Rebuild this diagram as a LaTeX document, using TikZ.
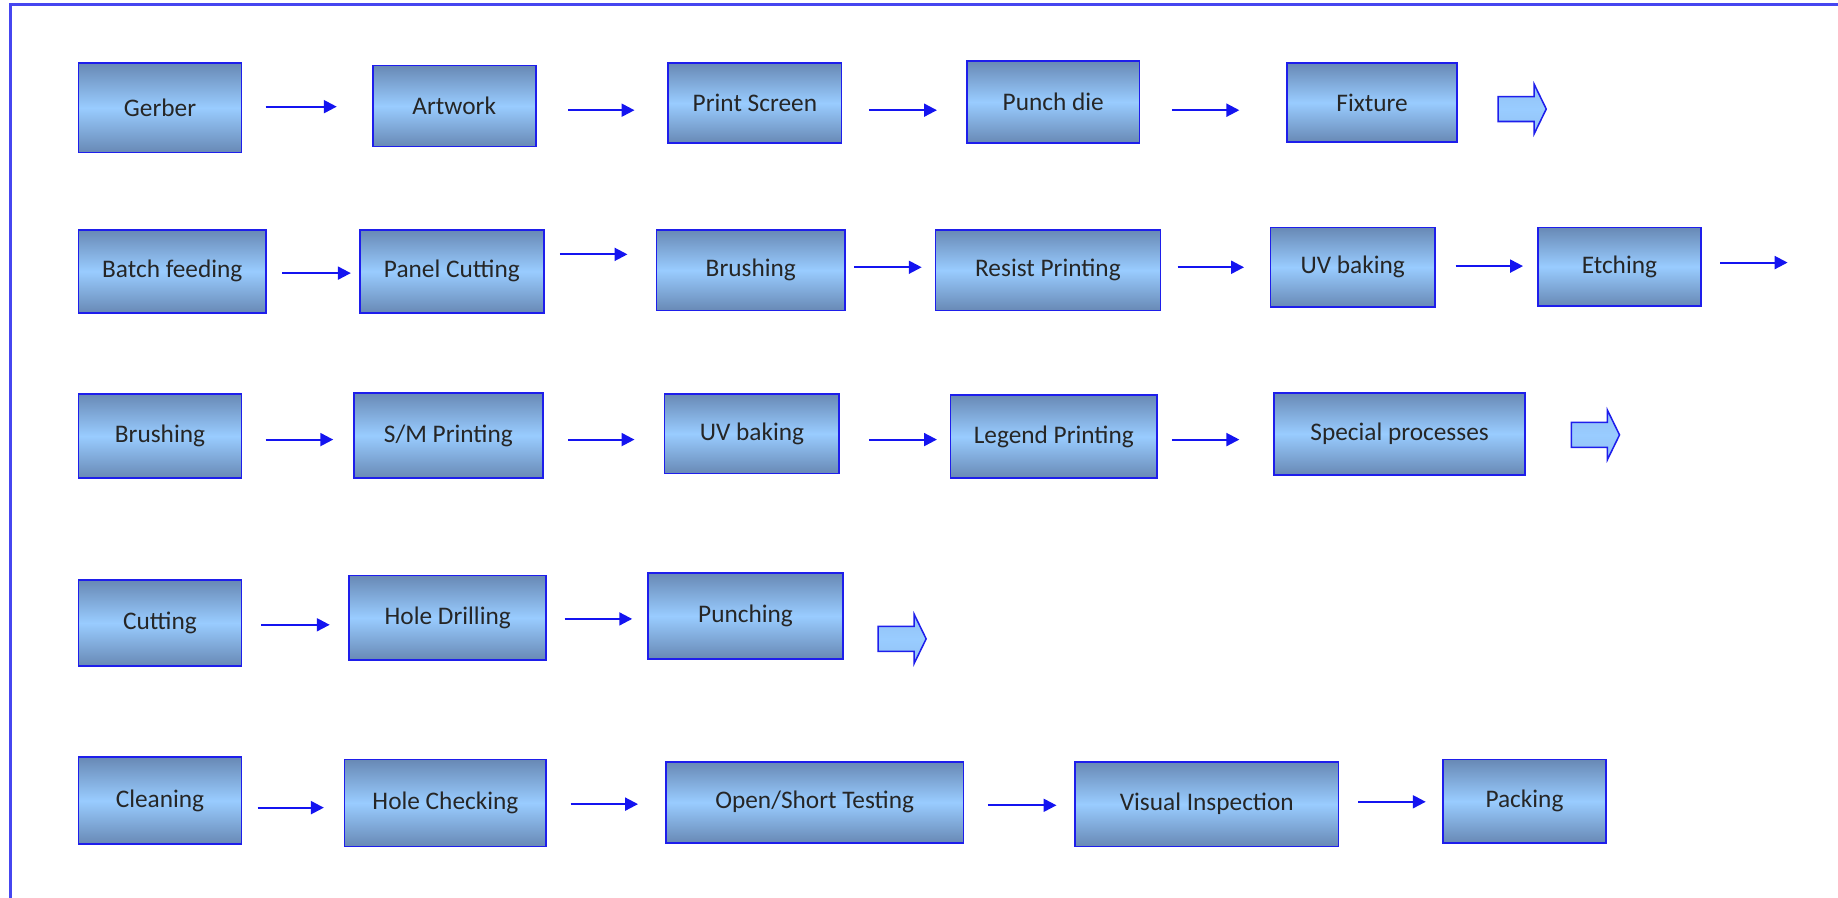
\documentclass[tikz,border=0pt]{standalone}
\usepackage{fontspec}
\setmainfont{Carlito}
\usepackage{tikz}
\usetikzlibrary{arrows.meta,shapes.arrows}
\definecolor{boxdark}{RGB}{104,137,181}
\definecolor{boxlight}{RGB}{153,204,255}
\definecolor{boxline}{RGB}{30,30,235}
\definecolor{flowblue}{RGB}{20,20,240}
\definecolor{framblue}{RGB}{70,70,240}
\newcommand\stagefont{\fontsize{21.6}{26}\selectfont}

\begin{document}
\begin{tikzpicture}[x=1pt,y=-1pt,
  stage/.style={draw=boxline, line width=1.4pt, top color=boxdark, bottom color=boxdark,
    middle color=boxlight, text=black!85, font=\stagefont, inner sep=0pt},
  flow/.style={draw=flowblue, line width=1.8pt, -{Triangle[length=11pt,width=11pt]}},
  gap/.style 2 args={shorten <=#1pt, shorten >=#2pt},
  bigarrow/.style={single arrow, draw=boxline, line width=1.3pt, top color=boxlight!85!boxdark,
    bottom color=boxlight!85!boxdark, middle color=boxlight, minimum height=41pt,
    inner xsep=0pt, inner ysep=10pt, single arrow head extend=10.5pt, single arrow tip angle=128}]
  \useasboundingbox (0,0) rectangle (1568,766);
  \draw[framblue, line width=2.2pt] (9,766) -- (9,4) -- (1568,4);

  % row 1
  \node[stage, minimum width=139pt, minimum height=76pt] (gerber) at (136.5,92) {Gerber};
  \node[stage, minimum width=139pt, minimum height=69pt] (artwork) at (387.5,90.5) {Artwork};
  \node[stage, minimum width=148pt, minimum height=68pt] (prscr) at (644,88) {Print Screen};
  \node[stage, minimum width=147pt, minimum height=70pt] (punch) at (898.5,87) {Punch die};
  \node[stage, minimum width=145pt, minimum height=67pt] (fixture) at (1170.5,87.5) {Fixture};
  \node[bigarrow] (next1) at (1296,93) {};
  \draw[flow, gap={20}{30}] ([yshift=1pt]gerber.east) -- ([yshift=1pt]gerber.east -| artwork.west);
  \draw[flow, gap={27}{28}] ([yshift=-3.5pt]artwork.east) -- ([yshift=-3.5pt]artwork.east -| prscr.west);
  \draw[flow, gap={23}{25}] ([yshift=-6pt]prscr.east) -- ([yshift=-6pt]prscr.east -| punch.west);
  \draw[flow, gap={27}{40}] ([yshift=-7pt]punch.east) -- ([yshift=-7pt]punch.east -| fixture.west);

  % row 2
  \node[stage, minimum width=160pt, minimum height=71pt] (batch) at (147,231.5) {Batch feeding};
  \node[stage, minimum width=157pt, minimum height=71pt] (pcut) at (385.5,231.5) {Panel Cutting};
  \node[stage, minimum width=161pt, minimum height=69pt] (brush1) at (640.5,230.5) {Brushing};
  \node[stage, minimum width=192pt, minimum height=69pt] (resist) at (894,230.5) {Resist Printing};
  \node[stage, minimum width=140pt, minimum height=68pt] (uvbake1) at (1154,228) {UV baking};
  \node[stage, minimum width=139pt, minimum height=67pt] (etch) at (1381.5,227.5) {Etching};
  \coordinate (etchout) at (1525,224);
  \draw[flow, gap={13}{7}] ([yshift=-1.5pt]batch.east) -- ([yshift=-1.5pt]batch.east -| pcut.west);
  \draw[flow, gap={13}{24}] ([yshift=14.5pt]pcut.east) -- ([yshift=14.5pt]pcut.east -| brush1.west);
  \draw[flow, gap={7}{11}] ([yshift=2.5pt]brush1.east) -- ([yshift=2.5pt]brush1.east -| resist.west);
  \draw[flow, gap={14}{22}] ([yshift=2.5pt]resist.east) -- ([yshift=2.5pt]resist.east -| uvbake1.west);
  \draw[flow, gap={17}{12}] ([yshift=1pt]uvbake1.east) -- ([yshift=1pt]uvbake1.east -| etch.west);
  \draw[flow, gap={16}{0}] ([yshift=3.5pt]etch.east) -- (etchout);

  % row 3
  \node[stage, minimum width=139pt, minimum height=72pt] (brush2) at (136.5,372) {Brushing};
  \node[stage, minimum width=161pt, minimum height=73pt] (smprint) at (382.5,371.5) {S/M Printing};
  \node[stage, minimum width=149pt, minimum height=68pt] (uvbake2) at (641.5,370) {UV baking};
  \node[stage, minimum width=176pt, minimum height=71pt] (legend) at (899,372.5) {Legend Printing};
  \node[stage, minimum width=214pt, minimum height=70pt] (special) at (1194,370) {Special processes};
  \node[bigarrow] (next2) at (1358.5,371) {};
  \draw[flow, gap={20}{17}] ([yshift=-3pt]brush2.east) -- ([yshift=-3pt]brush2.east -| smprint.west);
  \draw[flow, gap={21}{25}] ([yshift=-3.5pt]smprint.east) -- ([yshift=-3.5pt]smprint.east -| uvbake2.west);
  \draw[flow, gap={25}{11}] ([yshift=-5pt]uvbake2.east) -- ([yshift=-5pt]uvbake2.east -| legend.west);
  \draw[flow, gap={12}{29}] ([yshift=-2.5pt]legend.east) -- ([yshift=-2.5pt]legend.east -| special.west);

  % row 4
  \node[stage, minimum width=139pt, minimum height=73pt] (cutting) at (136.5,531.5) {Cutting};
  \node[stage, minimum width=168pt, minimum height=72pt] (drill) at (382,527) {Hole Drilling};
  \node[stage, minimum width=166pt, minimum height=73pt] (punching) at (636,525.5) {Punching};
  \node[bigarrow] (next3) at (767,545) {};
  \draw[flow, gap={16}{16}] ([yshift=-1.5pt]cutting.east) -- ([yshift=-1.5pt]cutting.east -| drill.west);
  \draw[flow, gap={15}{13}] ([yshift=-1pt]drill.east) -- ([yshift=-1pt]drill.east -| punching.west);

  % row 5
  \node[stage, minimum width=139pt, minimum height=74pt] (cleaning) at (136.5,683) {Cleaning};
  \node[stage, minimum width=172pt, minimum height=74pt] (holecheck) at (380,685) {Hole Checking};
  \node[stage, minimum width=254pt, minimum height=69pt] (openshort) at (695,684.5) {Open/Short Testing};
  \node[stage, minimum width=225pt, minimum height=72pt] (visual) at (1029.5,686) {Visual Inspection};
  \node[stage, minimum width=139pt, minimum height=71pt] (packing) at (1300.5,683.5) {Packing};
  \draw[flow, gap={13}{17}] ([yshift=-6pt]cleaning.east) -- ([yshift=-6pt]cleaning.east -| holecheck.west);
  \draw[flow, gap={20}{23}] ([yshift=-1pt]holecheck.east) -- ([yshift=-1pt]holecheck.east -| openshort.west);
  \draw[flow, gap={20}{15}] ([yshift=-2.5pt]openshort.east) -- ([yshift=-2.5pt]openshort.east -| visual.west);
  \draw[flow, gap={16}{14}] ([yshift=2pt]visual.east) -- ([yshift=2pt]visual.east -| packing.west);
\end{tikzpicture}
\end{document}
